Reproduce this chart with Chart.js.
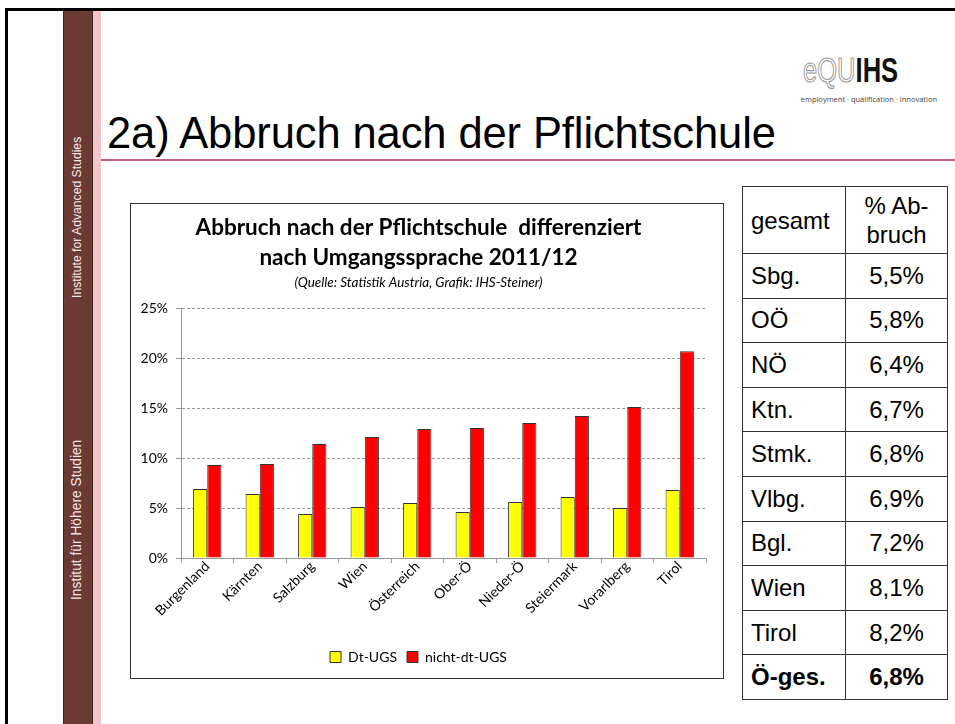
<!DOCTYPE html>
<html lang="de">
<head>
<meta charset="UTF-8">
<title>2a) Abbruch nach der Pflichtschule</title>
<style>
    body {
        margin: 0;
        width: 955px;
        height: 724px;
        overflow: hidden;
        background: #ffffff;
        font-family: "Liberation Sans", Arial, sans-serif;
        position: relative;
    }
    .frame {
        position: absolute;
        left: 5px;
        top: 8px;
        right: -10px;
        bottom: -10px;
        border-top: 3px solid #000;
        border-left: 3px solid #000;
    }
    .side {
        position: absolute;
        left: 63px;
        top: 11px;
        width: 28px;
        height: 713px;
        background: #6b3b33;
        border-left: 1px solid #3b2420;
        border-right: 1px solid #3b2420;
    }
    .side-pink {
        position: absolute;
        left: 93px;
        top: 11px;
        width: 8px;
        height: 713px;
        background: #f3c4cb;
    }
    .side-text {
        position: absolute;
        color: #f4e6e6;
        white-space: nowrap;
        transform: rotate(-90deg);
        transform-origin: left top;
    }
    .logo {
        position: absolute;
        left: 803px;
        top: 50px;
        font-size: 35px;
        white-space: nowrap;
        transform: scaleX(0.73);
        transform-origin: left top;
        font-family: "Liberation Sans", Arial, sans-serif;
    }
    .logo .equ {
        color: #fff;
        -webkit-text-stroke: 1.2px #999;
        font-weight: normal;
    }
    .logo .ihs {
        color: #111;
        font-weight: bold;
    }
    .tagline {
        position: absolute;
        right: 18px;
        top: 94px;
        white-space: nowrap;
        font-size: 7.5px;
        color: #444;
        font-family: "Open Sans", sans-serif;
    }
    h1 {
        position: absolute;
        left: 107px;
        top: 109px;
        margin: 0;
        font-weight: normal;
        font-size: 43.5px;
        letter-spacing: -0.1px;
        color: #000;
        white-space: nowrap;
    }
    .rule {
        position: absolute;
        left: 101px;
        top: 159px;
        width: 854px;
        height: 2px;
        background: #c7607a;
    }
    .chart-box {
        position: absolute;
        left: 130px;
        top: 203px;
        width: 594px;
        height: 476px;
        border: 1px solid #333;
        box-sizing: border-box;
        background: #fff;
    }
    table {
        position: absolute;
        left: 742px;
        top: 186px;
        border-collapse: collapse;
        font-size: 24px;
        color: #000;
    }
    td {
        border: 1px solid #333;
        height: 43.6px;
        padding: 0 8px;
        line-height: 26px;
    }
    td.name { width: 86px; text-align: left; }
    td.val { width: 85px; text-align: center; }
    tr.head td { height: 66px; line-height: 29px; }
    tr.total td { font-weight: bold; }
</style>
</head>
<body>
<div class="frame"></div>
<div class="side"></div>
<div class="side-pink"></div>
<div class="side-text" style="left:70px; top:298px; font-size:12.2px;">Institute for Advanced Studies</div>
<div class="side-text" style="left:69px; top:600px; font-size:13.8px;">Institut für Höhere Studien</div>

<div class="logo"><span class="equ">eQU</span><span class="ihs">IHS</span></div>
<div class="tagline">employment · qualification · innovation</div>

<h1>2a) Abbruch nach der Pflichtschule</h1>
<div class="rule"></div>

<div class="chart-box">
    <canvas id="abbruchChart"></canvas>
</div>

<table id="gesamtTable"></table>

<script src="https://cdn.jsdelivr.net/npm/chart.js"></script>
<script>
    // Daten aus der Grafik (Prozent)
    const bundeslaender = ['Burgenland', 'Kärnten', 'Salzburg', 'Wien', 'Österreich', 'Ober-Ö', 'Nieder-Ö', 'Steiermark', 'Vorarlberg', 'Tirol'];
    const dtUGS = [6.9, 6.4, 4.4, 5.1, 5.5, 4.6, 5.6, 6.1, 5.0, 6.8];
    const nichtDtUGS = [9.3, 9.4, 11.4, 12.1, 12.9, 13.0, 13.5, 14.2, 15.1, 20.7];
    const yTicks = [0, 5, 10, 15, 20, 25];

    // Tabelle rechts
    const tabelleNamen = ['Sbg.', 'OÖ', 'NÖ', 'Ktn.', 'Stmk.', 'Vlbg.', 'Bgl.', 'Wien', 'Tirol', 'Ö-ges.'];
    const tabelleWerte = ['5,5%', '5,8%', '6,4%', '6,7%', '6,8%', '6,9%', '7,2%', '8,1%', '8,2%', '6,8%'];

    const table = document.getElementById('gesamtTable');
    let html = '<tr class="head"><td class="name">gesamt</td><td class="val">% Ab-<br>bruch</td></tr>';
    tabelleNamen.forEach((name, i) => {
        const cls = i === tabelleNamen.length - 1 ? ' class="total"' : '';
        html += `<tr${cls}><td class="name">${name}</td><td class="val">${tabelleWerte[i]}</td></tr>`;
    });
    table.innerHTML = html;

    Chart.defaults.font.family = '"Lato", "Open Sans", sans-serif';
    Chart.defaults.color = '#000';

    const ctx = document.getElementById('abbruchChart').getContext('2d');
    const abbruchChart = new Chart(ctx, {
        type: 'bar',
        data: {
            labels: bundeslaender,
            datasets: [
                {
                    label: 'Dt-UGS',
                    data: dtUGS,
                    backgroundColor: '#ffff00',
                    borderColor: '#333',
                    borderWidth: 1,
                },
                {
                    label: 'nicht-dt-UGS',
                    data: nichtDtUGS,
                    backgroundColor: '#ff0000',
                    borderColor: '#333',
                    borderWidth: 1,
                }
            ]
        },
        options: {
            responsive: true,
            maintainAspectRatio: false,
            animation: false,
            datasets: {
                bar: {
                    categoryPercentage: 0.54,
                    barPercentage: 1.0,
                }
            },
            layout: {
                padding: { left: 0, right: 17, top: 0, bottom: 4 }
            },
            plugins: {
                title: {
                    display: true,
                    text: ['Abbruch nach der Pflichtschule  differenziert', 'nach Umgangssprache 2011/12'],
                    font: { size: 22.5, weight: 'bold', lineHeight: 1.333 },
                    padding: { top: 9, bottom: 2 },
                },
                subtitle: {
                    display: true,
                    text: '(Quelle: Statistik Austria, Grafik: IHS-Steiner)',
                    font: { size: 13.5, style: 'italic' },
                    padding: { top: 0, bottom: 17 },
                },
                legend: {
                    position: 'bottom',
                    labels: {
                        boxWidth: 11,
                        boxHeight: 11,
                        font: { size: 14 },
                        padding: 10,
                    }
                },
                tooltip: { enabled: false }
            },
            scales: {
                x: {
                    afterFit: scale => {
                        scale.height = 82;
                    },
                    grid: {
                        offset: true,
                        drawOnChartArea: false,
                        drawTicks: true,
                        tickLength: 5,
                        color: '#999',
                    },
                    border: { color: '#999' },
                    ticks: {
                        minRotation: 45,
                        maxRotation: 45,
                        font: { size: 14 },
                        padding: -5,
                    }
                },
                y: {
                    min: 0,
                    max: 25,
                    afterBuildTicks: scale => {
                        scale.ticks = yTicks.map(v => ({ value: v }));
                    },
                    afterFit: scale => {
                        scale.width = 50;
                    },
                    grid: {
                        color: '#999',
                        tickLength: 5,
                    },
                    border: { color: '#999', dash: [3, 2] },
                    ticks: {
                        callback: v => v + '%',
                        font: { size: 14 },
                        padding: 8,
                    }
                }
            }
        }
    });
</script>
</body>
</html>
